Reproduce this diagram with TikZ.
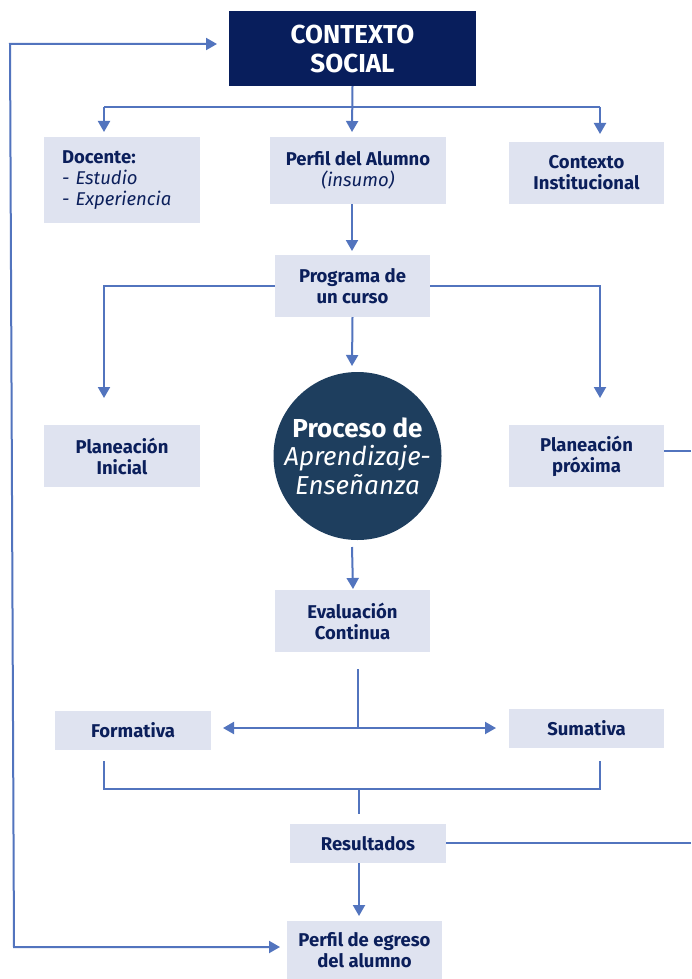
\documentclass[tikz,border=0pt]{standalone}
\usepackage{fontspec}
\setmainfont{Fira Sans}
\usetikzlibrary{arrows.meta,calc}
\definecolor{navy}{RGB}{8,30,92}
\definecolor{slate}{RGB}{30,62,94}
\definecolor{boxfill}{RGB}{223,227,240}
\definecolor{txt}{RGB}{11,31,91}
\definecolor{lnc}{RGB}{82,116,190}
\tikzset{
  box/.style={fill=boxfill, inner sep=0pt, align=center, text=txt, font=\fontsize{18.5}{21}\selectfont\bfseries},
  lnk/.style={draw=lnc, line width=2pt},
  arr/.style={lnk, -{Triangle[width=12pt,length=11pt]}},
  darr/.style={lnk, {Triangle[width=12pt,length=11pt]}-{Triangle[width=12pt,length=11pt]}},
}
\begin{document}
\begin{tikzpicture}[x=1pt,y=-1pt]
\useasboundingbox (0,0) rectangle (691,979);
\fill[white] (0,0) rectangle (691,979);
% nodes
\node[fill=navy, minimum width=247pt, minimum height=75pt, inner sep=0pt, align=center, text=white,
      font=\fontsize{26}{29}\selectfont\bfseries] (contexto) at (352.5,48.5) {CONTEXTO\\SOCIAL};
\node[box, minimum width=156pt, minimum height=86pt, text width=120pt, align=left] (docente) at (122,180)
  {Docente:\\\mdseries\itshape - Estudio\\\mdseries\itshape - Experiencia};
\node[box, minimum width=176pt, minimum height=67pt] (perfil) at (358,170.5)
  {Perfil del Alumno\\\mdseries\itshape (insumo)};
\node[box, minimum width=155pt, minimum height=62pt] (instit) at (586.5,173) {Contexto\\Institucional};
\node[box, minimum width=155pt, minimum height=62pt] (programa) at (352.5,286) {Programa de\\un curso};
\node[box, minimum width=156pt, minimum height=62pt] (inicial) at (122,456) {Planeación\\Inicial};
\node[box, minimum width=155pt, minimum height=62pt] (proxima) at (586.5,456) {Planeación\\próxima};
\node[circle, fill=slate, minimum size=168pt, inner sep=0pt, align=center, text=white,
      font=\fontsize{26}{28.5}\selectfont] (proceso) at (357.5,456)
  {\bfseries Proceso de\\\itshape Aprendizaje-\\\itshape Enseñanza};
\node[box, minimum width=155pt, minimum height=62pt] (evalua) at (352.5,621) {Evaluación\\Continua};
\node[box, minimum width=156pt, minimum height=39pt] (formativa) at (133,730.5) {Formativa};
\node[box, minimum width=155pt, minimum height=39pt] (sumativa) at (586.5,728.5) {Sumativa};
\node[box, minimum width=156pt, minimum height=39pt] (resultados) at (368,843.5) {Resultados};
\node[box, minimum width=155pt, minimum height=58pt] (egreso) at (364.5,950) {Perfil de egreso\\del alumno};
% coordinates
\coordinate (bL) at (104,107);
\coordinate (bR) at (600,107);
\coordinate (tL) at (104,132);
\coordinate (tR) at (600,134);
\coordinate (pL) at (104,398);
\coordinate (pR) at (600,398);
\coordinate (pLc) at (104,286);
\coordinate (pRc) at (600,286);
\coordinate (eR) at (691,451);
\coordinate (rR) at (691,843);
\coordinate (ev1) at (358,669);
\coordinate (ev2) at (358,728);
\coordinate (fa) at (223,728);
\coordinate (sa) at (496,728);
\coordinate (brL) at (104,761);
\coordinate (brR) at (600,761);
\coordinate (brC) at (359,789);
\coordinate (brD) at (359,814);
\coordinate (fbT) at (217,44);
\coordinate (fbB) at (280,947);
% connectors
\draw[arr] (contexto.south) -- (352,132);
\draw[lnk] (bL) -- (bR);
\draw[arr] (bL) -- (tL);
\draw[arr] (bR) -- (tR);
\draw[arr] (352,204) -- (352,251);
\draw[arr] (programa.west) -- (pLc) -- (pL);
\draw[arr] (programa.east) -- (pRc) -- (pR);
\draw[arr] (programa.south) -- (352,366);
\draw[lnk] (proxima.east |- eR) -- (eR);
\draw[arr] (352,547) -- (353,589);
\draw[lnk] (ev1) -- (ev2);
\draw[darr] (fa) -- (sa);
\draw[lnk] (brL) |- (brC) -| (brR);
\draw[lnk] (brC) -- (brD);
\draw[lnk] (resultados.east |- rR) -- (rR);
\draw[arr] (359,863) -- (359,916);
\draw[darr] (fbT) -- (10,44) -- (14,947) -- (fbB);
\end{tikzpicture}
\end{document}
